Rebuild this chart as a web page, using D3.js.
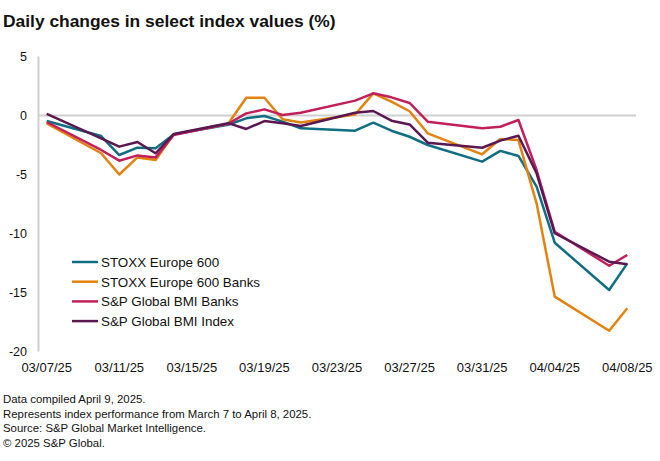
<!DOCTYPE html>
<html>
<head>
<meta charset="utf-8">
<script src="https://cdn.jsdelivr.net/npm/d3@7"></script>
<style>
  body { margin: 0; background: #fff; }
  text { font-family: "Liberation Sans", Arial, sans-serif; fill: #111; }
</style>
</head>
<body>
<script>
// trading days shown on the chart
var dates = ["2025-03-07",
  "2025-03-10","2025-03-11","2025-03-12","2025-03-13","2025-03-14",
  "2025-03-17","2025-03-18","2025-03-19","2025-03-20","2025-03-21",
  "2025-03-24","2025-03-25","2025-03-26","2025-03-27","2025-03-28",
  "2025-03-31","2025-04-01","2025-04-02","2025-04-03","2025-04-04",
  "2025-04-07","2025-04-08"];

var stoxx600 = [-0.47, -1.74, -3.35, -2.73, -2.78, -1.6,
  -0.78, -0.24, -0.04, -0.52, -1.09,
  -1.29, -0.61, -1.29, -1.8, -2.5,
  -3.91, -3.0, -3.43, -6.03, -10.78,
  -14.79, -12.53];
var stoxx600Banks = [-0.66, -3.2, -5.0, -3.55, -3.77, -1.6,
  -0.7, 1.5, 1.5, -0.32, -0.6,
  0.08, 1.88, 1.17, 0.36, -1.51,
  -3.29, -1.99, -2.08, -7.44, -15.35,
  -18.24, -16.34];
var bmiBanks = [-0.55, -2.92, -3.83, -3.38, -3.55, -1.65,
  -0.7, 0.18, 0.52, 0.04, 0.24,
  1.26, 1.88, 1.54, 1.06, -0.52,
  -1.09, -0.95, -0.38, -4.62, -9.85,
  -12.73, -11.82];
var bmiIndex = [0.13, -1.94, -2.64, -2.25, -3.2, -1.57,
  -0.65, -1.14, -0.47, -0.66, -0.89,
  0.24, 0.38, -0.44, -0.76, -2.3,
  -2.73, -2.13, -1.71, -4.9, -9.98,
  -12.39, -12.61];

var seriesNames = ["STOXX Europe 600", "STOXX Europe 600 Banks", "S&P Global BMI Banks", "S&P Global BMI Index"];
var seriesValues = [stoxx600, stoxx600Banks, bmiBanks, bmiIndex];
var colors = ["#0f6e84", "#e3820e", "#c2205a", "#5a1752"];

var xTicks = ["2025-03-07","2025-03-11","2025-03-15","2025-03-19","2025-03-23","2025-03-27","2025-03-31","2025-04-04","2025-04-08"];
var yTicks = [5, 0, -5, -10, -15, -20];

var notes = ["Data compiled April 9, 2025.",
  "Represents index performance from March 7 to April 8, 2025.",
  "Source: S&P Global Market Intelligence.",
  "\u00a9 2025 S&P Global."];

var W = 660, H = 461;
var parse = d3.timeParse("%Y-%m-%d");
var fmt = d3.timeFormat("%m/%d/%y");

var svg = d3.select("body").append("svg")
  .attr("width", W).attr("height", H);

var x = d3.scaleTime()
  .domain([parse("2025-03-07"), parse("2025-04-08")])
  .range([46.7, 627.3]);

var y = d3.scaleLinear()
  .domain([-20, 5])
  .range([351.5, 56.5]);

// title
svg.append("text")
  .attr("x", 3).attr("y", 27)
  .style("font-size", "17.4px")
  .style("font-weight", "bold")
  .text("Daily changes in select index values (%)");

// y axis line
svg.append("line")
  .attr("x1", 38.5).attr("x2", 38.5)
  .attr("y1", y(5)).attr("y2", y(-20))
  .attr("stroke", "#cfcfcf").attr("stroke-width", 2);

// zero line
svg.append("line")
  .attr("x1", 38).attr("x2", 636)
  .attr("y1", y(0)).attr("y2", y(0))
  .attr("stroke", "#cfcfcf").attr("stroke-width", 2);

// y tick labels
svg.append("g").selectAll("text")
  .data(yTicks).enter().append("text")
  .attr("x", 27).attr("y", function(d) { return y(d) + 4.5; })
  .attr("text-anchor", "end")
  .style("font-size", "12.5px")
  .text(function(d) { return d; });

// x tick labels
svg.append("g").selectAll("text")
  .data(xTicks).enter().append("text")
  .attr("x", function(d) { return x(parse(d)); })
  .attr("y", 371.5)
  .attr("text-anchor", "middle")
  .style("font-size", "13px")
  .text(function(d) { return fmt(parse(d)); });

// lines
var lines = svg.append("g");
seriesValues.forEach(function(vals, i) {
  var line = d3.line()
    .x(function(d, j) { return x(parse(dates[j])); })
    .y(function(d) { return y(d); });
  lines.append("path")
    .datum(vals)
    .attr("fill", "none")
    .attr("stroke", colors[i])
    .attr("stroke-width", 2.5)
    .attr("stroke-linejoin", "round")
    .attr("d", line);
});

// legend
var legend = svg.append("g");
seriesNames.forEach(function(name, i) {
  var ly = 262 + i * 19.7;
  legend.append("line")
    .attr("x1", 72).attr("x2", 98)
    .attr("y1", ly).attr("y2", ly)
    .attr("stroke", colors[i]).attr("stroke-width", 2.5);
  legend.append("text")
    .attr("x", 101).attr("y", ly + 4.8)
    .style("font-size", "13.4px")
    .text(name);
});

// notes
svg.append("g").selectAll("text")
  .data(notes).enter().append("text")
  .attr("x", 3).attr("y", function(d, i) { return 403 + i * 14.5; })
  .style("font-size", "11.4px")
  .text(function(d) { return d; });
</script>
</body>
</html>
